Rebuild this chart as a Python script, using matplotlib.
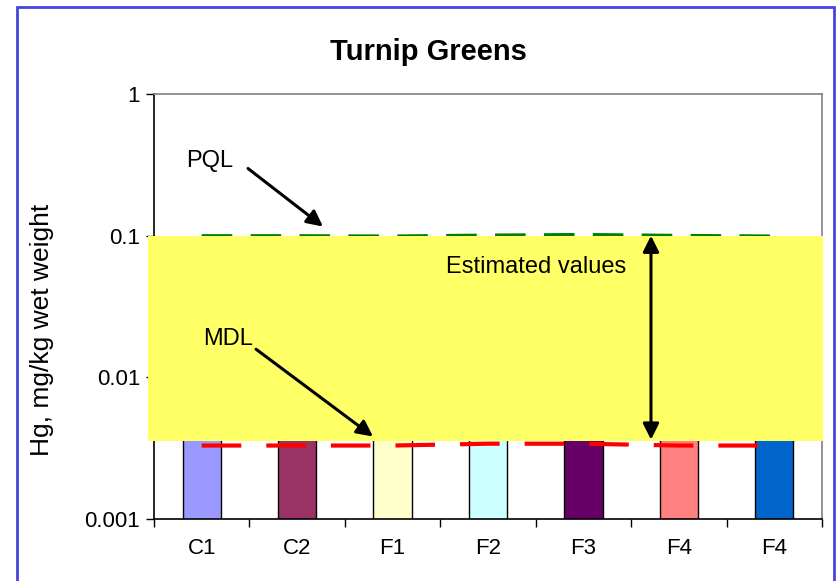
import numpy as np
import matplotlib
matplotlib.use("Agg")
import matplotlib.pyplot as plt
from matplotlib.patches import Rectangle
import matplotlib.transforms as mtransforms

plt.rcParams['font.family'] = ['Liberation Sans', 'DejaVu Sans']

categories = ["C1", "C2", "F1", "F2", "F3", "F4", "F4"]
bar_values = [0.006, 0.006, 0.006, 0.006, 0.006, 0.006, 0.006]
bar_colors = ["#9999FF", "#993366", "#FFFFCC", "#CCFFFF", "#660066", "#FF8080", "#0066CC"]
mdl_values = [0.0033, 0.0033, 0.0033, 0.0034, 0.0034, 0.0033, 0.0033]
pql_values = [0.1, 0.1, 0.0995, 0.101, 0.102, 0.1005, 0.0995]
band_low, band_high = 0.00353, 0.1

fig = plt.figure(figsize=(8.4, 5.81), dpi=100)
ax = fig.add_axes([154/840, 1-519/581, (822-154)/840, (519-94)/581])

x = np.arange(len(categories))
ax.bar(x, bar_values, width=0.4, color=bar_colors, edgecolor="black", linewidth=1, bottom=0, zorder=2)
ax.plot(x, pql_values, color="#008000", lw=2.2, dashes=(10, 6), zorder=3)
ax.plot(x, mdl_values, color="#FF0000", lw=3, dashes=(9.5, 6), zorder=5)

ax.set_yscale("log")
ax.set_ylim(0.001, 1)
ax.set_xlim(-0.5, len(categories) - 0.5)
ax.set_yticks([0.001, 0.01, 0.1, 1])
ax.set_yticklabels(["0.001", "0.01", "0.1", "1"])
ax.yaxis.set_minor_locator(matplotlib.ticker.NullLocator())
ax.set_xticks(x)
ax.set_xticklabels(categories)
ax.set_xticks(np.arange(-0.5, len(categories)), minor=True)
ax.tick_params(axis="x", which="major", length=0, pad=14, labelsize=16)
ax.tick_params(axis="x", which="minor", length=6, width=1, direction="out")
ax.tick_params(axis="y", which="major", length=6, width=1, direction="out", labelsize=16, pad=4)

for s in ["top", "right"]:
    ax.spines[s].set_color("#808080")
    ax.spines[s].set_linewidth(1.2)
for s in ["left", "bottom"]:
    ax.spines[s].set_color("black")
    ax.spines[s].set_linewidth(1.2)

trans = mtransforms.blended_transform_factory(ax.transAxes, ax.transData)
ax.add_patch(Rectangle((-0.009, band_low), 1.0105, band_high - band_low, transform=trans,
                       facecolor="#FFFF66", edgecolor="none", zorder=4, clip_on=False))

fig.text(428/840, 1-52/581, "Turnip Greens", fontsize=21, fontweight="bold", ha="center", va="center")
fig.text(42/840, 1-330/581, "Hg, mg/kg wet weight", fontsize=19, rotation=90, ha="center", va="center")

akw = dict(arrowstyle="-|>", color="black", lw=2.2, mutation_scale=24, shrinkA=0, shrinkB=0)
ax.text(0.087, 0.335, "PQL", fontsize=17, ha="center", va="center", zorder=6)
ax.annotate("", xy=(1.271, 0.116), xytext=(0.485, 0.298), arrowprops=akw, zorder=6)
ax.text(0.275, 0.0186, "MDL", fontsize=17, ha="center", va="center", zorder=6)
ax.annotate("", xy=(1.795, 0.00382), xytext=(0.569, 0.0158), arrowprops=akw, zorder=6)
ax.text(3.503, 0.0603, "Estimated values", fontsize=17, ha="center", va="center", zorder=6)
ax.annotate("", xy=(4.708, 0.1), xytext=(4.708, 0.00363),
            arrowprops=dict(arrowstyle="<|-|>", color="black", lw=2.2, mutation_scale=24,
                            shrinkA=0, shrinkB=0), zorder=6)

fig.patches.append(Rectangle((17/840, -0.02), (834-17)/840, 1-7/581+0.02, transform=fig.transFigure,
                             facecolor="none", edgecolor="#4444DD", lw=2, zorder=0))

fig.savefig("out.png", dpi=100)
